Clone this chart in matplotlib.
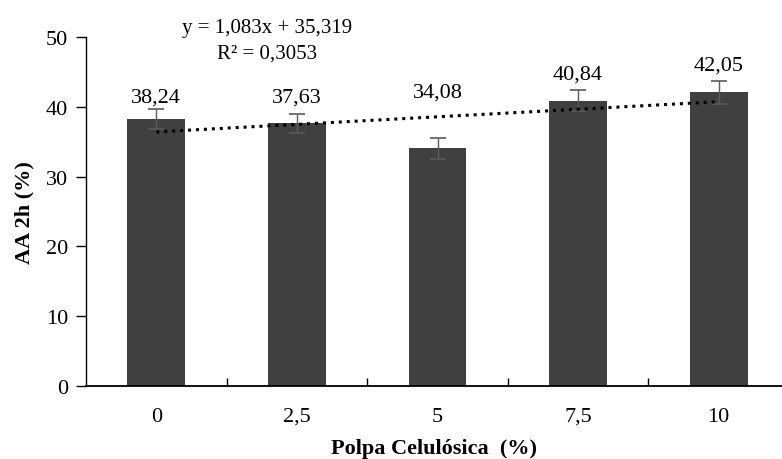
import numpy as np
import matplotlib.pyplot as plt

# ====== Data ======
categories = ["0", "2,5", "5", "7,5", "10"]
aa_2h = [38.24, 37.63, 34.08, 40.84, 42.05]
aa_err = [1.4, 1.4, 1.5, 1.5, 1.6]
value_labels = ["38,24", "37,63", "34,08", "40,84", "42,05"]
equation_text = "y = 1,083x + 35,319"
r2_text = "R² = 0,3053"

# label offsets above the error cap (points)
label_offsets = [2, 5, 26, 5, 5]

plt.rcParams["font.family"] = ["Liberation Serif", "DejaVu Serif"]

fig = plt.figure(figsize=(7.82, 4.6), dpi=100)
ax = fig.add_axes([86 / 782, 73 / 460, 696 / 782, 349 / 460])

x = np.arange(len(categories))
ax.bar(x, aa_2h, width=0.41, color="#404040", zorder=2)
ax.errorbar(x, aa_2h, yerr=aa_err, fmt="none", ecolor="#5a5a5a",
            elinewidth=1, capsize=6, capthick=1.2, zorder=3)

# linear trend (Excel style, x = 1..n)
xs = x + 1
slope, intercept = np.polyfit(xs, aa_2h, 1)
ax.plot(x, slope * xs + intercept, linestyle=(0, (1, 1.6)), color="black",
        linewidth=2.2, zorder=4)

for xi, v, e, lab, off in zip(x, aa_2h, aa_err, value_labels, label_offsets):
    ax.annotate(lab, (xi, v + e), xytext=(0, off), textcoords="offset points",
                ha="center", va="bottom", fontsize=16)

ax.text(0.785, 1.026, equation_text, transform=ax.get_xaxis_transform(),
        ha="center", va="center", fontsize=15)
ax.text(0.785, 0.954, r2_text, transform=ax.get_xaxis_transform(),
        ha="center", va="center", fontsize=15)

ax.set_xlim(-0.5, 4.45)
ax.set_ylim(0, 50)
ax.set_yticks([0, 10, 20, 30, 40, 50])
ax.set_xticks(x)
ax.set_xticklabels(categories)
ax.set_xticks(x[:-1] + 0.5, minor=True)
ax.tick_params(axis="x", which="major", length=0, pad=15, labelsize=16)
ax.tick_params(axis="x", which="minor", direction="in", length=6, width=1)
ax.tick_params(axis="y", direction="out", length=7, width=1, labelsize=16, pad=6)

for s in ("top", "right"):
    ax.spines[s].set_visible(False)
ax.spines["left"].set_linewidth(1)
ax.spines["bottom"].set_linewidth(1.3)

ax.set_ylabel("AA 2h (%)", fontsize=16, fontweight="bold", labelpad=8)
ax.set_xlabel("Polpa Celulósica  (%)", fontsize=16, fontweight="bold", labelpad=9)

fig.savefig("out.png", dpi=100)
